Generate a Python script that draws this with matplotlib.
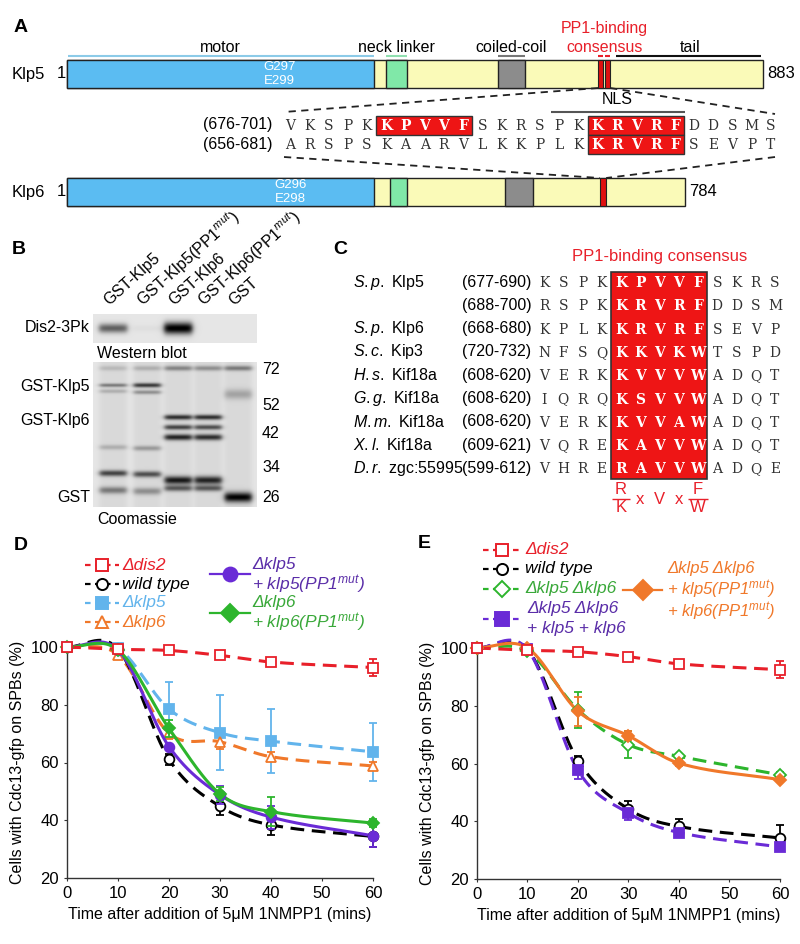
import numpy as np
import matplotlib
matplotlib.use("Agg")
import matplotlib.pyplot as plt

plt.rcParams['font.family'] = ['Liberation Sans', 'DejaVu Sans']
plt.rcParams['mathtext.fontset'] = 'custom'
plt.rcParams['mathtext.rm'] = 'Liberation Sans'
plt.rcParams['mathtext.it'] = 'Liberation Sans:italic'
plt.rcParams['mathtext.bf'] = 'Liberation Sans:bold'

# ======================= DATA =======================
# Panel A: protein maps (residues)
klp5_length = 883
klp6_length = 784
klp5_motor = [1, 390]
klp6_motor = [1, 390]
klp5_neck = [405, 431]
klp6_neck = [410, 431]
klp5_coil = [547, 581]
klp6_coil = [556, 591]
klp5_pp1 = [[674, 680], [683, 689]]
klp6_pp1 = [[676, 684]]
klp5_tail = [697, 880]
klp5_motor_text = ["G297", "E299"]
klp6_motor_text = ["G296", "E298"]
seq_klp5 = "VKSPKKPVVFSKRSPKKRVRFDDSMS"
seq_klp6 = "ARSPSKAARVLKKPLKKRVRFSEVPT"
seq_klp5_range = "(676-701)"
seq_klp6_range = "(656-681)"
seq_klp5_boxes = [[5, 10], [16, 21]]
seq_klp6_boxes = [[16, 21]]
nls_letters = [14, 20]

# Panel B: blot
lane_names = ["GST-Klp5", "GST-Klp5(PP1$^{mut}$)", "GST-Klp6",
              "GST-Klp6(PP1$^{mut}$)", "GST"]
western_signal = [0.55, 0.03, 0.97, 0.0, 0.0]
marker_kda = ["72", "52", "42", "34", "26"]
marker_rows = [8, 43, 71, 106, 136]          # migration rows in gel image
gel_bands = [  # (row, darkness, thickness) per lane
    [(6, 0.15, 2.5), (23, 0.45, 1.8), (29, 0.2, 2), (85, 0.2, 2.5), (111, 0.7, 3), (128, 0.45, 3.5)],
    [(6, 0.2, 2.5), (23, 0.75, 2.2), (30, 0.35, 2), (86, 0.3, 2.5), (112, 0.65, 3), (129, 0.35, 3.5)],
    [(6, 0.4, 2.5), (55, 0.8, 2.5), (65, 0.7, 2.5), (75, 0.85, 3), (118, 0.9, 4), (126, 0.6, 3)],
    [(6, 0.35, 2.5), (55, 0.8, 2.5), (65, 0.65, 2.5), (75, 0.8, 3), (118, 0.85, 4), (126, 0.6, 3)],
    [(6, 0.45, 2.5), (32, 0.25, 5), (135, 1.0, 5)],
]

# Panel C: alignment
c_genus = ["S.p.", "", "S.p.", "S.c.", "H.s.", "G.g.", "M.m.", "X.l.", "D.r."]
c_protein = ["Klp5", "", "Klp6", "Kip3", "Kif18a", "Kif18a", "Kif18a", "Kif18a", "zgc:55995"]
c_ranges = ["(677-690)", "(688-700)", "(668-680)", "(720-732)", "(608-620)",
            "(608-620)", "(608-620)", "(609-621)", "(599-612)"]
c_seqs = ["KSPKKPVVFSKRS", "RSPKKRVRFDDSM", "KPLKKRVRFSEVP", "NFSQKKVKWTSPD",
          "VERKKVVVWADQT", "IQRQKSVVWADQT", "VERKKVVAWADQT", "VQREKAVVWADQT",
          "VHRERAVVWADQE"]
c_box = [4, 8]

# Panels D & E: time courses
times = [0, 10, 20, 30, 40, 60]
d_dis2 = [100, 99.2, 98.8, 97.1, 94.8, 92.9]
d_dis2_err = [0, 0, 0.5, 0.6, 1.3, 2.9]
d_wt = [100, 99.3, 61.1, 44.8, 38.4, 34.4]
d_wt_err = [0, 0.5, 2.0, 3.0, 3.5, 3.5]
d_klp5 = [100, 99.5, 78.5, 70.3, 67.4, 63.7]
d_klp5_err = [0, 0.5, 9.4, 13.0, 11.0, 10.0]
d_klp6 = [100, 97.2, 70.1, 67.2, 62.0, 58.8]
d_klp6_err = [0, 1.0, 2.0, 2.5, 1.5, 1.5]
d_klp5pp = [100, 99.0, 65.5, 48.8, 41.1, 34.6]
d_klp5pp_err = [0, 0.5, 1.0, 3.0, 4.0, 4.0]
d_klp6pp = [100, 99.0, 71.8, 49.1, 43.0, 39.0]
d_klp6pp_err = [0, 0.5, 3.0, 2.5, 5.0, 1.5]

e_dis2 = [100, 99.2, 98.7, 97.0, 94.5, 92.5]
e_dis2_err = [0, 0, 0.5, 0.5, 1.5, 3.0]
e_wt = [100, 99.5, 61.0, 44.2, 38.2, 34.2]
e_wt_err = [0, 0.5, 1.5, 2.7, 2.6, 4.6]
e_dko = [100, 98.8, 78.6, 66.5, 62.5, 56.1]
e_dko_err = [0, 1.0, 6.3, 4.6, 0.8, 0.8]
e_dkopp = [100, 100, 78.1, 69.6, 60.1, 54.4]
e_dkopp_err = [0, 0.5, 5.0, 1.5, 1.0, 0.8]
e_dkowt = [100, 99.5, 57.6, 42.8, 36.1, 31.1]
e_dkowt_err = [0, 0.5, 3.0, 2.2, 1.0, 1.0]

# ======================= STYLE =======================
RED = '#e8202a'
BLUE = '#5bbcf2'
YEL = '#fafab8'
GRN = '#80e8a8'
GRY = '#8c8c8c'
BOXRED = '#ee1515'
LBLUE = '#62b4ec'
ORNG = '#f0782a'
PURP = '#6a2bd6'
PURP_T = '#5a2da8'
GREEN = '#2db52d'
GREEN_T = '#39a839'
SEQFONT = 'DejaVu Serif'
SEQFS = 10

W, H = 800, 944
fig = plt.figure(figsize=(W / 100, H / 100), dpi=100)

# ======================= PANEL A (residue axis) =======================
k = 696 / 883.0
x0px = 67
axA = fig.add_axes([0, 0, 1, 1])
axA.set_xlim(-x0px / k, (W - x0px) / k)
axA.set_ylim(H, 0)
axA.axis('off')
axA.patch.set_alpha(0)

ov = fig.add_axes([0, 0, 1, 1])
ov.set_xlim(0, W)
ov.set_ylim(H, 0)
ov.axis('off')
ov.patch.set_alpha(0)
ov.set_zorder(5)

FS = 11.5


def rpx(res):
    return x0px + res * k


def protein(length, yc, hgt, motor, neck, coil, pp1):
    axA.barh(yc, length, left=0, height=hgt, color=YEL, edgecolor='#222', lw=1)
    axA.barh(yc, motor[1], left=0, height=hgt, color=BLUE, edgecolor='#222', lw=1)
    axA.barh(yc, neck[1] - neck[0], left=neck[0], height=hgt, color=GRN, edgecolor='#222', lw=1)
    axA.barh(yc, coil[1] - coil[0], left=coil[0], height=hgt, color=GRY, edgecolor='#222', lw=1)
    for s, e in pp1:
        axA.barh(yc, e - s, left=s, height=hgt, color='#e01010', edgecolor='#222', lw=0.8)


protein(klp5_length, 74, 28, klp5_motor, klp5_neck, klp5_coil, klp5_pp1)
protein(klp6_length, 192, 28, klp6_motor, klp6_neck, klp6_coil, klp6_pp1)

axA.hlines(56, klp5_motor[0], klp5_motor[1], color='#8ccbe8', lw=1.5)
axA.hlines(56, klp5_neck[0], klp5_neck[1], color='#90e0b0', lw=1.5)
axA.hlines(56, klp5_coil[0], klp5_coil[1], color='#777', lw=1.5)
for s, e in klp5_pp1:
    axA.hlines(56, s, e, color=RED, lw=1.5)
axA.hlines(56, klp5_tail[0], klp5_tail[1], color='#111', lw=1.5)

ov.text(14, 28, 'A', fontsize=14, fontweight='bold', va='center', ha='left')
ov.text(rpx(195), 47, 'motor', fontsize=FS, ha='center', va='center')
ov.text(rpx(418), 47, 'neck linker', fontsize=FS, ha='center', va='center')
ov.text(rpx(564), 47, 'coiled-coil', fontsize=FS, ha='center', va='center')
ov.text(rpx(682), 28, 'PP1-binding', fontsize=FS, ha='center', va='center', color=RED)
ov.text(rpx(682), 47, 'consensus', fontsize=FS, ha='center', va='center', color=RED)
ov.text(rpx(790), 47, 'tail', fontsize=FS, ha='center', va='center')

ov.text(12, 74, 'Klp5', fontsize=12, va='center', ha='left')
ov.text(57, 74, '1', fontsize=12, va='center', ha='left')
ov.text(rpx(klp5_length) + 4, 74, str(klp5_length), fontsize=12, va='center', ha='left')
ov.text(12, 192, 'Klp6', fontsize=12, va='center', ha='left')
ov.text(57, 192, '1', fontsize=12, va='center', ha='left')
ov.text(rpx(klp6_length) + 4, 192, str(klp6_length), fontsize=12, va='center', ha='left')
for j, t in enumerate(klp5_motor_text):
    ov.text(rpx(270), 67 + 14 * j, t, fontsize=9.5, color='white', ha='center', va='center')
for j, t in enumerate(klp6_motor_text):
    ov.text(rpx(283), 185 + 14 * j, t, fontsize=9.5, color='white', ha='center', va='center')

sx0, sdx = 290, 19.24
row1, row2 = 125, 144


def seq_row(seq, yrow, boxes, label):
    ov.text(272, yrow, label, fontsize=FS, ha='right', va='center')
    inbox = set()
    for a, b in boxes:
        ov.add_patch(plt.Rectangle((sx0 + sdx * a - 10, yrow - 9.5), sdx * (b - a), 19,
                                   facecolor=BOXRED, edgecolor='#333', lw=1))
        inbox.update(range(a, b))
    for i, ch in enumerate(seq):
        if i in inbox:
            ov.text(sx0 + sdx * i, yrow + 1, ch, family=SEQFONT, fontsize=SEQFS,
                    fontweight='bold', color='white', ha='center', va='center')
        else:
            ov.text(sx0 + sdx * i, yrow + 1, ch, family=SEQFONT, fontsize=SEQFS,
                    color='#333', ha='center', va='center')


seq_row(seq_klp5, row1, seq_klp5_boxes, seq_klp5_range)
seq_row(seq_klp6, row2, seq_klp6_boxes, seq_klp6_range)

ov.hlines(112, sx0 + sdx * nls_letters[0] - 8, sx0 + sdx * nls_letters[1] + 10, color='#555', lw=1.5)
ov.text(sx0 + sdx * 17, 100, 'NLS', fontsize=FS, ha='center', va='center')

dash_kw = dict(color='#222', lw=1.3, ls=(0, (4, 3)))
ov.plot([rpx(klp5_pp1[0][0]), sx0 - 6], [88, 112], **dash_kw)
ov.plot([rpx(klp5_pp1[-1][1]), sx0 + sdx * 25 + 4], [88, 114], **dash_kw)
ov.plot([sx0 - 6, rpx(klp6_pp1[0][0])], [157, 178], **dash_kw)
ov.plot([sx0 + sdx * 25 + 4, rpx(klp6_pp1[0][1])], [157, 178], **dash_kw)

# ======================= PANEL B =======================
ov.text(12, 250, 'B', fontsize=14, fontweight='bold', va='center', ha='left')
lane_x = [113, 147, 178, 208, 238]
for xl, name in zip(lane_x, lane_names):
    ov.text(xl - 4, 306, name, fontsize=11.5, rotation=42, rotation_mode='anchor',
            ha='left', va='baseline')

wb_x0, wb_x1, wb_y0, wb_y1 = 93, 257, 314, 343
sup = 2
yy, xx = np.mgrid[0:(wb_y1 - wb_y0) * sup, 0:(wb_x1 - wb_x0) * sup] / sup
img = np.full(yy.shape, 0.9)
for xl, s in zip(lane_x, western_signal):
    prof = 1 / (1 + np.exp((np.abs(xx + wb_x0 - xl) - 14) / 1.5))
    img -= 0.95 * s * prof * np.exp(-((yy - 14) / (3 + 3 * s)) ** 2)
ov.imshow(np.clip(img, 0, 1), cmap='gray', vmin=0, vmax=1, aspect='auto',
          extent=(wb_x0, wb_x1, wb_y1, wb_y0), origin='upper', interpolation='bilinear')
ov.text(90, 328, 'Dis2-3Pk', fontsize=FS, ha='right', va='center')
ov.text(97, 353, 'Western blot', fontsize=FS, ha='left', va='center')

g_x0, g_x1, g_y0, g_y1 = 93, 257, 362, 507
yy, xx = np.mgrid[0:(g_y1 - g_y0) * sup, 0:(g_x1 - g_x0) * sup] / sup
img = np.full(yy.shape, 0.9)
for xl, bands in zip(lane_x, gel_bands):
    prof = 1 / (1 + np.exp((np.abs(xx + g_x0 - xl) - 13.5) / 1.5))
    img -= 0.05 * prof
    for row, dark, th in bands:
        img -= 0.85 * dark * prof * np.exp(-((yy - row) / th) ** 2)
ov.imshow(np.clip(img, 0, 1), cmap='gray', vmin=0, vmax=1, aspect='auto',
          extent=(g_x0, g_x1, g_y1, g_y0), origin='upper', interpolation='bilinear')
for lab, r in zip(marker_kda, marker_rows):
    ov.text(262, g_y0 + r, lab, fontsize=FS, ha='left', va='center')
ov.text(90, 387, 'GST-Klp5', fontsize=FS, ha='right', va='center')
ov.text(90, 421, 'GST-Klp6', fontsize=FS, ha='right', va='center')
ov.text(90, 497, 'GST', fontsize=FS, ha='right', va='center')
ov.text(97, 519, 'Coomassie', fontsize=FS, ha='left', va='center')

# ======================= PANEL C =======================
ov.text(333, 250, 'C', fontsize=14, fontweight='bold', va='center', ha='left')
cx0, cdx = 544, 19.25
cy0, cdy = 282, 23.3
ov.text(cx0 + cdx * 6, 256, 'PP1-binding consensus', fontsize=12, color=RED,
        ha='center', va='center')
n_rows = len(c_seqs)
ov.add_patch(plt.Rectangle((cx0 + cdx * c_box[0] - 10, cy0 - 10), cdx * (c_box[1] - c_box[0] + 1),
                           cdy * (n_rows - 1) + 21, facecolor=BOXRED, edgecolor='#333', lw=1.2))
for i in range(n_rows):
    y = cy0 + cdy * i
    if c_genus[i]:
        ov.text(353, y, r'$\it{' + c_genus[i] + '}$ ' + c_protein[i], fontsize=FS,
                ha='left', va='center')
    ov.text(462, y, c_ranges[i], fontsize=FS, ha='left', va='center')
    for j, ch in enumerate(c_seqs[i]):
        inside = c_box[0] <= j <= c_box[1]
        ov.text(cx0 + cdx * j, y + 1, ch, family=SEQFONT, fontsize=SEQFS,
                fontweight='bold' if inside else 'normal',
                color='white' if inside else '#333', ha='center', va='center')
cy_cons = 499
ov.text(cx0 + cdx * 4, cy_cons - 9, 'R', fontsize=12, color=RED, ha='center', va='center')
ov.text(cx0 + cdx * 4, cy_cons + 9, 'K', fontsize=12, color=RED, ha='center', va='center')
ov.hlines(cy_cons, cx0 + cdx * 4 - 9, cx0 + cdx * 4 + 9, color=RED, lw=1)
ov.text(cx0 + cdx * 5, cy_cons + 1, 'x', fontsize=12, color=RED, ha='center', va='center')
ov.text(cx0 + cdx * 6, cy_cons, 'V', fontsize=12, color=RED, ha='center', va='center')
ov.text(cx0 + cdx * 7, cy_cons + 1, 'x', fontsize=12, color=RED, ha='center', va='center')
ov.text(cx0 + cdx * 8, cy_cons - 9, 'F', fontsize=12, color=RED, ha='center', va='center')
ov.text(cx0 + cdx * 8, cy_cons + 9, 'W', fontsize=12, color=RED, ha='center', va='center')
ov.hlines(cy_cons, cx0 + cdx * 8 - 10, cx0 + cdx * 8 + 10, color=RED, lw=1)

# ======================= PANELS D & E =======================


def smooth(x, y, num=300):
    """Cardinal (Catmull-Rom style) Hermite curve through the points."""
    x = np.asarray(x, float)
    y = np.asarray(y, float)
    n = len(x)
    m = np.zeros(n)
    m[0] = (y[1] - y[0]) / (x[1] - x[0])
    m[-1] = (y[-1] - y[-2]) / (x[-1] - x[-2])
    for i in range(1, n - 1):
        m[i] = (y[i + 1] - y[i - 1]) / (x[i + 1] - x[i - 1])
    xs = np.linspace(x[0], x[-1], num)
    idx = np.clip(np.searchsorted(x, xs) - 1, 0, n - 2)
    hh = x[idx + 1] - x[idx]
    t = (xs - x[idx]) / hh
    h00 = 2 * t ** 3 - 3 * t ** 2 + 1
    h10 = t ** 3 - 2 * t ** 2 + t
    h01 = -2 * t ** 3 + 3 * t ** 2
    h11 = t ** 3 - t ** 2
    ys = h00 * y[idx] + h10 * hh * m[idx] + h01 * y[idx + 1] + h11 * hh * m[idx + 1]
    return xs, ys


DASH = (0, (4.5, 2.5))


def series(ax, vals, errs, color, dashed, marker, filled, ms=7, lw=2.2, z=3):
    xs, ys = smooth(times, vals)
    ax.plot(xs, ys, color=color, lw=lw, ls=DASH if dashed else '-', clip_on=False, zorder=z)
    ax.errorbar(times, vals, yerr=errs, fmt=marker, color=color, ms=ms,
                mfc=color if filled else 'white', mec=color, mew=1.3,
                ecolor=color, elinewidth=1.3, capsize=3, capthick=1.3,
                clip_on=False, zorder=z + 1)


def setup(ax):
    ax.set_xlim(0, 60)
    ax.set_ylim(20, 100)
    ax.set_xticks([0, 10, 20, 30, 40, 50, 60])
    ax.set_yticks([20, 40, 60, 80, 100])
    for s in ['top', 'right']:
        ax.spines[s].set_visible(False)
    for s in ['left', 'bottom']:
        ax.spines[s].set_color('#333')
        ax.spines[s].set_linewidth(1)
    ax.tick_params(labelsize=12, length=2, pad=4, color='#333')
    ax.set_xlabel('Time after addition of 5\u03bcM 1NMPP1 (mins)', fontsize=11.5, labelpad=4)
    ax.set_ylabel('Cells with Cdc13-gfp on SPBs (%)', fontsize=11.5, labelpad=4)
    ax.patch.set_alpha(0)


axD = fig.add_axes([67 / W, (H - 878) / H, 306 / W, 231 / H])
setup(axD)
series(axD, d_klp5, d_klp5_err, LBLUE, True, 's', True, z=2)
series(axD, d_klp6, d_klp6_err, ORNG, True, '^', False, z=2)
series(axD, d_wt, d_wt_err, 'black', True, 'o', False, z=3)
series(axD, d_klp5pp, d_klp5pp_err, PURP, False, 'o', True, z=4)
series(axD, d_klp6pp, d_klp6pp_err, GREEN, False, 'D', True, ms=6.5, z=4)
series(axD, d_dis2, d_dis2_err, RED, True, 's', False, z=5)

axE = fig.add_axes([477 / W, (H - 879) / H, 303 / W, 231 / H])
setup(axE)
series(axE, e_wt, e_wt_err, 'black', True, 'o', False, z=3)
series(axE, e_dkowt, e_dkowt_err, PURP, True, 's', True, z=3)
series(axE, e_dko, e_dko_err, GREEN, True, 'D', False, ms=6.5, z=4)
series(axE, e_dkopp, e_dkopp_err, ORNG, False, 'D', True, ms=6.5, z=4)
series(axE, e_dis2, e_dis2_err, RED, True, 's', False, z=5)

ov.text(14, 545, 'D', fontsize=14, fontweight='bold', va='center', ha='left')
ov.text(418, 543, 'E', fontsize=14, fontweight='bold', va='center', ha='left')

LFS = 12.5


def leg(x0, x1, y, color, dashed, marker, filled, ms=8):
    ov.plot([x0, x1], [y, y], color=color, lw=1.6, ls=(0, (2.5, 2)) if dashed else '-')
    ov.plot([(x0 + x1) / 2], [y], marker=marker, ms=ms, color=color,
            mfc=color if filled else 'white', mec=color, mew=1.4)


def ltext(x, y, s, color, fs=LFS):
    ov.text(x, y, s, fontsize=fs, style='italic', color=color, ha='left', va='center')


# D legend
leg(85, 119, 565, RED, True, 's', False)
ltext(122, 565, '\u0394dis2', RED)
leg(85, 119, 584, 'black', True, 'o', False)
ltext(122, 584, 'wild type', 'black')
leg(85, 119, 603, LBLUE, True, 's', True)
ltext(122, 603, '\u0394klp5', LBLUE)
leg(85, 119, 622, ORNG, True, '^', False)
ltext(122, 622, '\u0394klp6', ORNG)
leg(210, 250, 574, PURP, False, 'o', True, ms=10)
ltext(252, 565, '\u0394klp5', PURP_T)
ltext(252, 585, '+ klp5(PP1$^{mut}$)', PURP_T)
leg(210, 250, 613, GREEN, False, 'D', True, ms=9)
ltext(252, 603, '\u0394klp6', GREEN_T)
ltext(252, 623, '+ klp6(PP1$^{mut}$)', GREEN_T)

# E legend
leg(483, 521, 550, RED, True, 's', False)
ltext(525, 550, '\u0394dis2', RED)
leg(483, 521, 569, 'black', True, 'o', False)
ltext(525, 569, 'wild type', 'black')
leg(483, 521, 589, GREEN, True, 'D', False)
ltext(525, 589, '\u0394klp5 \u0394klp6', GREEN_T)
leg(483, 521, 619, PURP, True, 's', True, ms=10)
ltext(527, 609, '\u0394klp5 \u0394klp6', PURP_T)
ltext(527, 628, '+ klp5 + klp6', PURP_T)
leg(623, 662, 590, ORNG, False, 'D', True, ms=10)
ltext(667, 568, '\u0394klp5 \u0394klp6', ORNG, 12)
ltext(667, 590, '+ klp5(PP1$^{mut}$)', ORNG, 12)
ltext(667, 612, '+ klp6(PP1$^{mut}$)', ORNG, 12)

fig.savefig('out.png', dpi=100)
